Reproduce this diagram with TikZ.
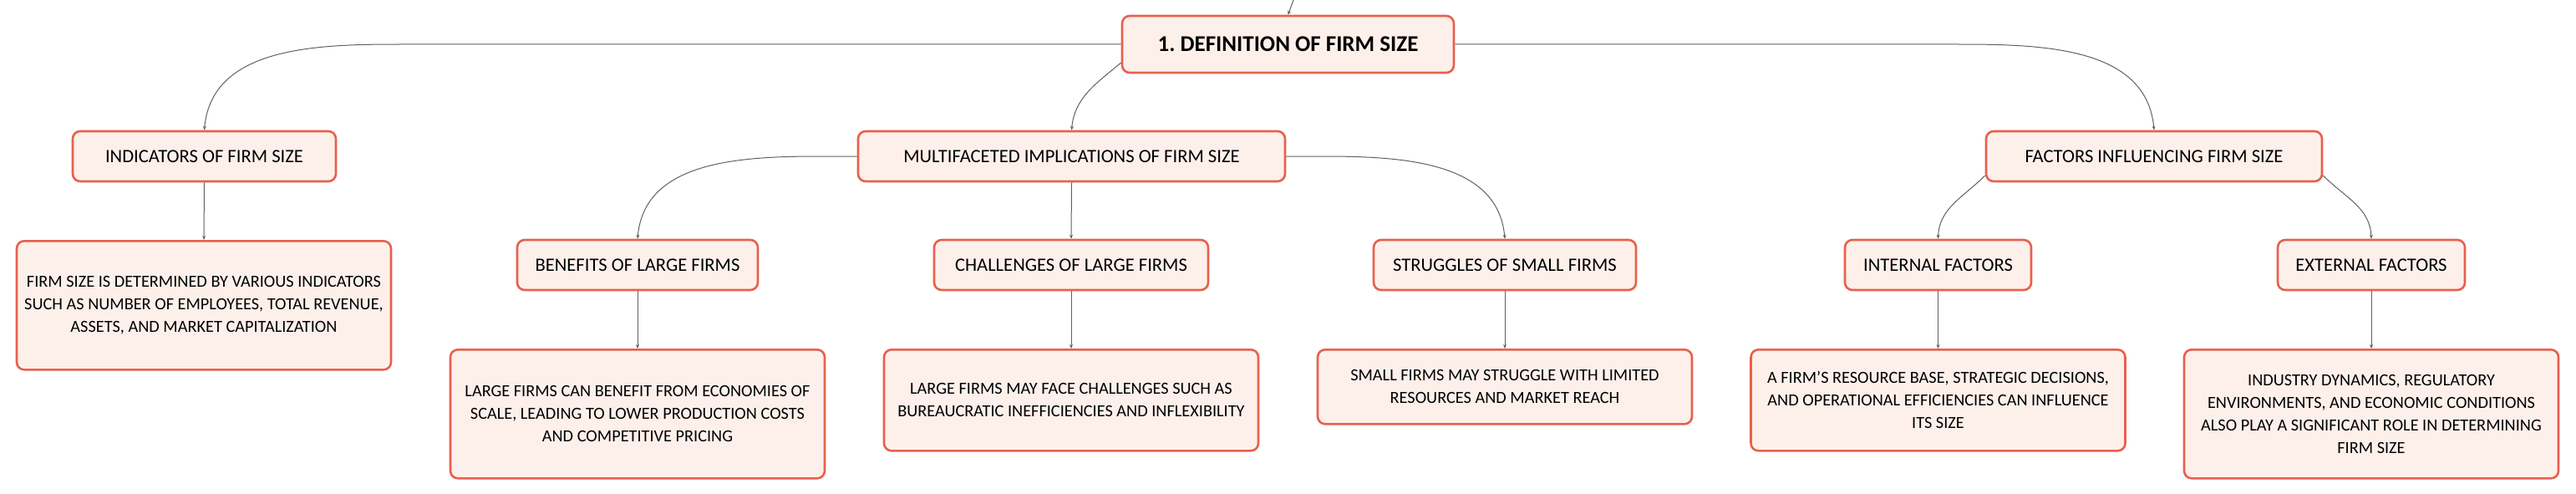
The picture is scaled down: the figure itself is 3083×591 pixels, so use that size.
\documentclass[tikz,border=0pt]{standalone}
\usepackage{fontspec}
\setmainfont{Carlito}
\usetikzlibrary{arrows.meta, positioning}
\definecolor{boxred}{HTML}{E8604C}
\definecolor{boxfill}{HTML}{FDF0EB}
\definecolor{linkgray}{HTML}{606060}

\begin{document}
\begin{tikzpicture}[x=1pt,y=-1pt,->,>={Stealth[length=5pt,width=4pt]},draw=linkgray,line width=1pt]
    \tikzstyle{topic}=[draw=boxred,fill=boxfill,line width=2.6pt,rounded corners=9pt,align=center,inner sep=0pt,text=black,font=\fontsize{22.6}{27}\selectfont]
    \tikzstyle{central topic}=[topic,minimum width=397pt,minimum height=68pt,font=\fontsize{27}{32}\selectfont\bfseries]
    \tikzstyle{main topic}=[topic,minimum height=60pt]
    \tikzstyle{detail}=[topic,anchor=north,minimum width=448pt,font=\fontsize{20.3}{27}\selectfont]

    \useasboundingbox (0,0) rectangle (3083,591);

    % Central topic and the link from above
    \node[central topic] (R) at (1541.5,53) {1.\ DEFINITION OF FIRM SIZE};
    \coordinate (up) at (1548,0);
    \draw (up) -- (R.north);

    % First level
    \node[main topic,minimum width=315pt] (L1-1) at (244.5,187) {INDICATORS OF FIRM SIZE};
    \node[main topic,minimum width=511pt] (L1-2) at (1282.5,187) {MULTIFACETED IMPLICATIONS OF FIRM SIZE};
    \node[main topic,minimum width=402pt] (L1-3) at (2578,187) {FACTORS INFLUENCING FIRM SIZE};

    % Second level
    \node[main topic,minimum width=288pt] (L2-1) at (763,317) {BENEFITS OF LARGE FIRMS};
    \node[main topic,minimum width=328pt] (L2-2) at (1282,317) {CHALLENGES OF LARGE FIRMS};
    \node[main topic,minimum width=314pt] (L2-3) at (1801,317) {STRUGGLES OF SMALL FIRMS};
    \node[main topic,minimum width=223pt] (L2-4) at (2319.5,317) {INTERNAL FACTORS};
    \node[main topic,minimum width=224pt] (L2-5) at (2838,317) {EXTERNAL FACTORS};

    % Details
    \node[detail,minimum height=154pt] (D-1) at (244,287)
        {FIRM SIZE IS DETERMINED BY VARIOUS INDICATORS\\SUCH AS NUMBER OF EMPLOYEES, TOTAL REVENUE,\\ASSETS, AND MARKET CAPITALIZATION};
    \node[detail,minimum height=154pt] (D-2) at (763,417)
        {LARGE FIRMS CAN BENEFIT FROM ECONOMIES OF\\SCALE, LEADING TO LOWER PRODUCTION COSTS\\AND COMPETITIVE PRICING};
    \node[detail,minimum height=121pt] (D-3) at (1282,417)
        {LARGE FIRMS MAY FACE CHALLENGES SUCH AS\\BUREAUCRATIC INEFFICIENCIES AND INFLEXIBILITY};
    \node[detail,minimum height=89pt] (D-4) at (1801,417)
        {SMALL FIRMS MAY STRUGGLE WITH LIMITED\\RESOURCES AND MARKET REACH};
    \node[detail,minimum height=121pt] (D-5) at (2319.5,417)
        {A FIRM'S RESOURCE BASE, STRATEGIC DECISIONS,\\AND OPERATIONAL EFFICIENCIES CAN INFLUENCE\\ITS SIZE};
    \node[detail,minimum height=154pt] (D-6) at (2838,417)
        {INDUSTRY DYNAMICS, REGULATORY\\ENVIRONMENTS, AND ECONOMIC CONDITIONS\\ALSO PLAY A SIGNIFICANT ROLE IN DETERMINING\\FIRM SIZE};

    % Curved links from the central topic
    \draw (R.west) -- ++(-861,0) to[out=180,in=85] (L1-1.north);
    \draw ([yshift=-22pt]R.west) to[out=220,in=85] (L1-2.north);
    \draw (R.east) -- ++(600,0) to[out=0,in=95] (L1-3.north);

    % Curved links on the first level
    \draw (L1-2.west) -- ++(-40,0) to[out=180,in=85] (L2-1.north);
    \draw (L1-2.east) -- ++(42,0) to[out=0,in=95] (L2-3.north);
    \draw ([yshift=-23pt]L1-3.west) to[out=225,in=88] (L2-4.north);
    \draw ([yshift=-23pt]L1-3.east) to[out=-45,in=92] (L2-5.north);

    % Straight links
    \foreach \source/\dest in {L1-2/L2-2,L1-1/D-1,L2-1/D-2,L2-2/D-3,L2-3/D-4,L2-4/D-5,L2-5/D-6}
        \draw (\source.south) -- (\dest.north);
\end{tikzpicture}
\end{document}
